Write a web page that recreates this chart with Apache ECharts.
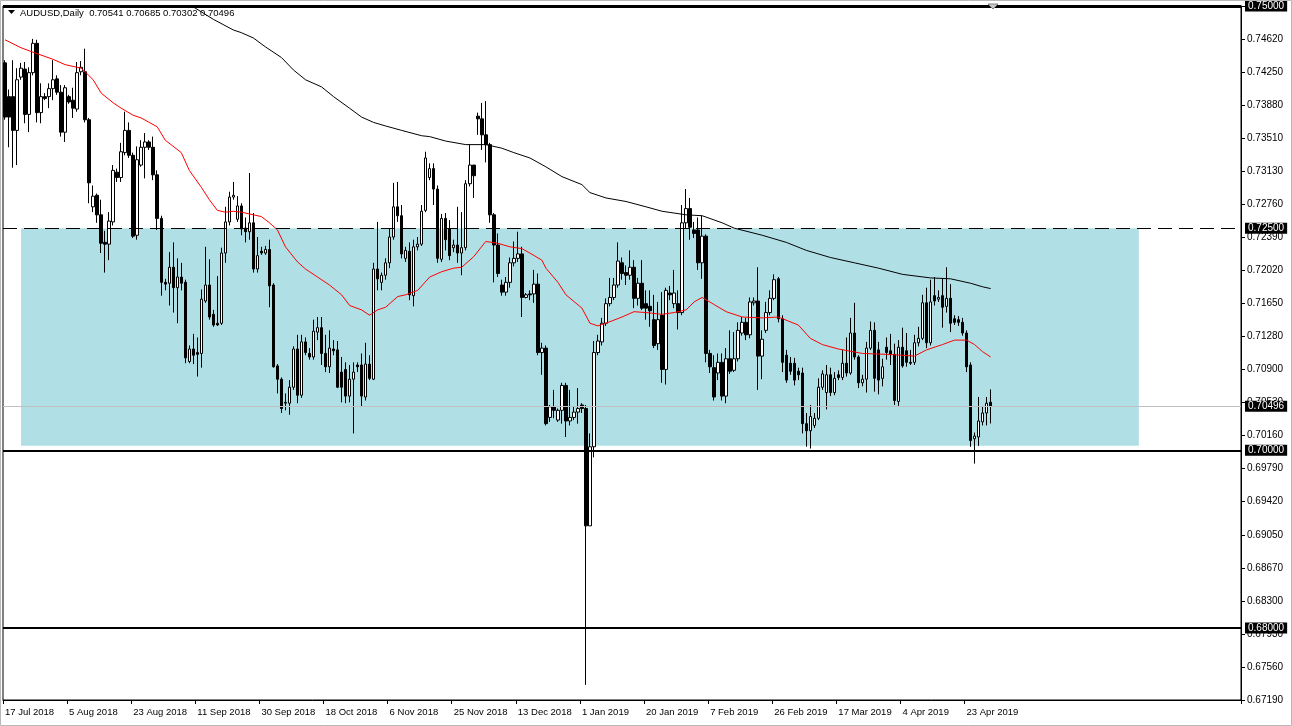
<!DOCTYPE html>
<html><head><meta charset="utf-8">
<script src="https://cdn.jsdelivr.net/npm/echarts@6/dist/echarts.min.js"></script>
<style>html,body{margin:0;padding:0;background:#fff}#c{width:1292px;height:726px}</style>
</head><body><div id="c"></div>
<script>
const symbolName = 'AUDUSD,Daily';
const dateLabels = ['17 Jul 2018','5 Aug 2018','23 Aug 2018','11 Sep 2018','30 Sep 2018','18 Oct 2018','6 Nov 2018','25 Nov 2018','13 Dec 2018','1 Jan 2019','20 Jan 2019','7 Feb 2019','26 Feb 2019','17 Mar 2019','4 Apr 2019','23 Apr 2019'];
const labelStep = 16;
const nSlots = 309;
const yLabels = ['0.67190','0.67560','0.67930','0.68300','0.68670','0.69050','0.69420','0.69790','0.70160','0.70530','0.70900','0.71280','0.71650','0.72020','0.72390','0.72760','0.73130','0.73510','0.73880','0.74250','0.74620','0.75000'];
const yMin = 0.6719, yMax = 0.75;

const opens = [
0.7436,0.7398,0.7398,0.7360,0.7420,0.7429,0.7378,0.7425,0.7458,0.7380,
0.7398,0.7398,0.7407,0.7418,0.7403,0.7358,0.7398,0.7394,0.7384,0.7426,
0.7426,0.7372,0.7274,0.7287,0.7265,0.7234,0.7232,0.7257,0.7313,0.7307,
0.7335,0.7360,0.7332,0.7242,0.7321,0.7341,0.7347,0.7341,0.7310,0.7261,
0.7189,0.7188,0.7206,0.7183,0.7195,0.7189,0.7100,0.7114,0.7110,0.7109,
0.7168,0.7186,0.7153,0.7143,0.7143,0.7222,0.7257,0.7285,0.7260,0.7275,
0.7250,0.7246,0.7256,0.7204,0.7224,0.7222,0.7226,0.7186,0.7095,0.7080,
0.7053,0.7053,0.7071,0.7114,0.7062,0.7122,0.7109,0.7105,0.7133,0.7138,
0.7109,0.7094,0.7114,0.7113,0.7088,0.7091,0.7061,0.7080,0.7096,0.7096,
0.7060,0.7097,0.7080,0.7204,0.7189,0.7197,0.7211,0.7240,0.7274,0.7264,
0.7216,0.7224,0.7174,0.7229,0.7232,0.7270,0.7307,0.7317,0.7294,0.7215,
0.7261,0.7249,0.7228,0.7231,0.7222,0.7228,0.7300,0.7321,0.7376,0.7373,
0.7355,0.7344,0.7265,0.7231,0.7186,0.7178,0.7189,0.7211,0.7216,0.7221,
0.7172,0.7176,0.7176,0.7187,0.7110,0.7115,0.7037,0.7049,0.7034,0.7045,
0.7073,0.7033,0.7037,0.7043,0.7051,0.7047,0.6915,0.7004,0.7110,0.7122,
0.7143,0.7165,0.7172,0.7186,0.7211,0.7200,0.7197,0.7206,0.7171,0.7188,
0.7165,0.7162,0.7147,0.7120,0.7152,0.7091,0.7177,0.7165,0.7165,0.7155,
0.7256,0.7272,0.7248,0.7248,0.7211,0.7241,0.7109,0.7093,0.7087,0.7099,
0.7061,0.7103,0.7090,0.7103,0.7132,0.7144,0.7130,0.7166,0.7168,0.7106,
0.7135,0.7155,0.7171,0.7193,0.7148,0.7107,0.7098,0.7098,0.7089,0.7087,
0.7030,0.7022,0.7028,0.7036,0.7071,0.7065,0.7085,0.7065,0.7085,0.7082,
0.7098,0.7087,0.7132,0.7105,0.7076,0.7080,0.7115,0.7135,0.7113,0.7081,
0.7116,0.7112,0.7108,0.7055,0.7116,0.7112,0.7099,0.7099,0.7121,0.7126,
0.7166,0.7121,0.7174,0.7170,0.7174,0.7162,0.7171,0.7148,0.7147,0.7144,
0.7132,0.7096,0.7013,0.7015,0.7032,0.7042,0.70541];

const closes = [
0.7375,0.7375,0.7360,0.7417,0.7430,0.7378,0.7425,0.7458,0.7380,0.7398,
0.7396,0.7407,0.7417,0.7403,0.7358,0.7408,0.7392,0.7385,0.7425,0.7431,
0.7372,0.7301,0.7286,0.7265,0.7233,0.7232,0.7258,0.7315,0.7307,0.7336,
0.7360,0.7332,0.7241,0.7327,0.7341,0.7347,0.7341,0.7310,0.7261,0.7189,
0.7187,0.7206,0.7183,0.7195,0.7188,0.7104,0.7114,0.7107,0.7108,0.7170,
0.7186,0.7150,0.7141,0.7141,0.7222,0.7257,0.7285,0.7287,0.7275,0.7249,
0.7246,0.7256,0.7204,0.7219,0.7222,0.7226,0.7185,0.7094,0.7080,0.7047,
0.7054,0.7071,0.7114,0.7062,0.7122,0.7110,0.7105,0.7134,0.7138,0.7109,
0.7094,0.7115,0.7112,0.7071,0.7071,0.7061,0.7080,0.7088,0.7094,0.7061,
0.7097,0.7081,0.7204,0.7193,0.7197,0.7211,0.7240,0.7274,0.7264,0.7221,
0.7225,0.7175,0.7229,0.7232,0.7269,0.7329,0.7317,0.7294,0.7216,0.7261,
0.7237,0.7219,0.7231,0.7222,0.7228,0.7300,0.7321,0.7309,0.7373,0.7355,
0.7344,0.7265,0.7231,0.7199,0.7178,0.7189,0.7211,0.7216,0.7221,0.7172,
0.7175,0.7175,0.7187,0.7110,0.7115,0.7030,0.7049,0.7045,0.7045,0.7073,
0.7033,0.7037,0.7043,0.7047,0.7047,0.6915,0.7004,0.7110,0.7123,0.7143,
0.7165,0.7172,0.7186,0.7213,0.7199,0.7197,0.7206,0.7171,0.7188,0.7160,
0.7160,0.7157,0.7118,0.7147,0.7091,0.7180,0.7175,0.7177,0.7155,0.7256,
0.7272,0.7251,0.7244,0.7211,0.7241,0.7109,0.7094,0.7060,0.7099,0.7061,
0.7103,0.7089,0.7103,0.7135,0.7144,0.7130,0.7167,0.7168,0.7106,0.7125,
0.7155,0.7171,0.7192,0.7148,0.7099,0.7079,0.7089,0.7079,0.7085,0.7030,
0.7022,0.7038,0.7036,0.7071,0.7086,0.7085,0.7065,0.7081,0.7082,0.7098,
0.7087,0.7132,0.7105,0.7076,0.7080,0.7115,0.7135,0.7081,0.7079,0.7094,
0.7110,0.7108,0.7056,0.7116,0.7095,0.7099,0.7098,0.7121,0.7126,0.7166,
0.7121,0.7167,0.7168,0.7172,0.7161,0.7171,0.7143,0.7144,0.7144,0.7132,
0.7094,0.7011,0.7016,0.7033,0.7042,0.7053,0.70496];

const lows = [
0.7372,0.7341,0.7318,0.7321,0.7417,0.7368,0.7358,0.7422,0.7369,0.7368,
0.7394,0.7385,0.7394,0.7400,0.7353,0.7347,0.7390,0.7374,0.7381,0.7422,
0.7369,0.7278,0.7268,0.7256,0.7222,0.7200,0.7214,0.7253,0.7302,0.7302,
0.7332,0.7329,0.7239,0.7237,0.7319,0.7306,0.7338,0.7304,0.7248,0.7174,
0.7180,0.7163,0.7155,0.7143,0.7180,0.7098,0.7098,0.7097,0.7083,0.7093,
0.7166,0.7147,0.7139,0.7140,0.7141,0.7211,0.7253,0.7282,0.7257,0.7242,
0.7234,0.7237,0.7200,0.7200,0.7220,0.7220,0.7161,0.7093,0.7064,0.7042,
0.7045,0.7040,0.7068,0.7053,0.7059,0.7107,0.7102,0.7102,0.7124,0.7096,
0.7088,0.7087,0.7107,0.7070,0.7054,0.7053,0.7054,0.7019,0.7088,0.7049,
0.7056,0.7079,0.7079,0.7180,0.7180,0.7192,0.7205,0.7237,0.7257,0.7216,
0.7212,0.7169,0.7162,0.7225,0.7230,0.7268,0.7304,0.7276,0.7211,0.7212,
0.7225,0.7214,0.7223,0.7211,0.7197,0.7225,0.7297,0.7284,0.7355,0.7338,
0.7324,0.7256,0.7189,0.7195,0.7174,0.7174,0.7183,0.7207,0.7212,0.7150,
0.7171,0.7169,0.7166,0.7107,0.7085,0.7028,0.7032,0.7036,0.7032,0.7030,
0.7015,0.7028,0.7034,0.7030,0.7042,0.6736,0.6915,0.6992,0.7107,0.7118,
0.7140,0.7162,0.7169,0.7183,0.7192,0.7186,0.7192,0.7160,0.7163,0.7158,
0.7147,0.7139,0.7115,0.7113,0.7076,0.7074,0.7169,0.7160,0.7136,0.7152,
0.7250,0.7237,0.7239,0.7203,0.7193,0.7099,0.7087,0.7056,0.7079,0.7056,
0.7053,0.7086,0.7088,0.7100,0.7129,0.7124,0.7126,0.7163,0.7068,0.7080,
0.7132,0.7152,0.7169,0.7144,0.7088,0.7076,0.7085,0.7073,0.7079,0.7019,
0.7004,0.7002,0.7025,0.7034,0.7068,0.7046,0.7061,0.7062,0.7079,0.7079,
0.7083,0.7085,0.7102,0.7070,0.7072,0.7065,0.7113,0.7066,0.7063,0.7072,
0.7102,0.7096,0.7051,0.7050,0.7093,0.7094,0.7096,0.7096,0.7117,0.7124,
0.7115,0.7118,0.7163,0.7167,0.7138,0.7155,0.7133,0.7141,0.7140,0.7129,
0.7088,0.7004,0.6985,0.7005,0.7028,0.7028,0.70302];

const highs = [
0.7439,0.7406,0.7439,0.7430,0.7436,0.7437,0.7431,0.7463,0.7462,0.7413,
0.7402,0.7413,0.7439,0.7422,0.7411,0.7411,0.7400,0.7408,0.7437,0.7438,
0.7452,0.7374,0.7298,0.7289,0.7282,0.7247,0.7268,0.7321,0.7317,0.7346,
0.7381,0.7369,0.7335,0.7342,0.7349,0.7357,0.7349,0.7353,0.7315,0.7264,
0.7193,0.7223,0.7234,0.7216,0.7211,0.7192,0.7118,0.7131,0.7127,0.7181,
0.7229,0.7215,0.7158,0.7196,0.7228,0.7274,0.7291,0.7302,0.7286,0.7278,
0.7262,0.7312,0.7267,0.7240,0.7229,0.7230,0.7237,0.7188,0.7097,0.7082,
0.7064,0.7079,0.7117,0.7130,0.7130,0.7127,0.7115,0.7147,0.7150,0.7150,
0.7130,0.7135,0.7124,0.7123,0.7105,0.7099,0.7096,0.7099,0.7099,0.7109,
0.7121,0.7107,0.7211,0.7257,0.7200,0.7216,0.7250,0.7301,0.7302,0.7276,
0.7229,0.7234,0.7237,0.7240,0.7276,0.7336,0.7323,0.7323,0.7298,0.7266,
0.7267,0.7259,0.7237,0.7274,0.7268,0.7304,0.7344,0.7321,0.7380,0.7391,
0.7393,0.7346,0.7267,0.7244,0.7192,0.7195,0.7217,0.7235,0.7246,0.7229,
0.7177,0.7180,0.7203,0.7199,0.7121,0.7118,0.7051,0.7068,0.7047,0.7076,
0.7076,0.7068,0.7049,0.7070,0.7053,0.7051,0.7019,0.7123,0.7130,0.7149,
0.7171,0.7194,0.7194,0.7234,0.7217,0.7208,0.7225,0.7214,0.7194,0.7214,
0.7180,0.7180,0.7175,0.7167,0.7178,0.7183,0.7185,0.7203,0.7180,0.7276,
0.7294,0.7284,0.7257,0.7262,0.7264,0.7243,0.7113,0.7107,0.7109,0.7109,
0.7115,0.7135,0.7133,0.7144,0.7150,0.7149,0.7172,0.7172,0.7206,0.7135,
0.7167,0.7180,0.7198,0.7195,0.7152,0.7113,0.7105,0.7104,0.7093,0.7093,
0.7042,0.7051,0.7042,0.7081,0.7090,0.7096,0.7093,0.7088,0.7090,0.7113,
0.7127,0.7149,0.7166,0.7107,0.7085,0.7122,0.7145,0.7144,0.7122,0.7103,
0.7127,0.7131,0.7120,0.7124,0.7138,0.7132,0.7113,0.7130,0.7139,0.7175,
0.7183,0.7192,0.7195,0.7180,0.7194,0.7206,0.7187,0.7152,0.7151,0.7149,
0.7135,0.7099,0.7020,0.7060,0.7049,0.7060,0.70685];

// moving averages read at sample bars: [bar index, price]
const redMA = [[0,0.7462],[4,0.7453],[7,0.7448],[12,0.7440],[15,0.7434],[19,0.7430],[20,0.7426],[22,0.7417],[24,0.7402],[27,0.7391],[29,0.7385],[32,0.7377],[34,0.7374],[36,0.7369],[38,0.7364],[40,0.7349],[44,0.7335],[46,0.7315],[49,0.7296],[51,0.7282],[53,0.7270],[55,0.7268],[57,0.7269],[59,0.7268],[62,0.7265],[64,0.7263],[66,0.7256],[68,0.7248],[70,0.7229],[73,0.7212],[75,0.7204],[78,0.7195],[81,0.7186],[84,0.7175],[86,0.7163],[89,0.7158],[91,0.7152],[93,0.7158],[95,0.7161],[98,0.7173],[100,0.7175],[103,0.7180],[106,0.7195],[109,0.7201],[112,0.7205],[114,0.7206],[117,0.7218],[120,0.7235],[123,0.7233],[126,0.7229],[129,0.7227],[131,0.7222],[134,0.7214],[135,0.7205],[138,0.7189],[140,0.7175],[144,0.7160],[146,0.7143],[148,0.7140],[150,0.7143],[154,0.7150],[157,0.7156],[160,0.7155],[164,0.7153],[167,0.7155],[170,0.7158],[172,0.7167],[174,0.7172],[177,0.7164],[180,0.7156],[184,0.7150],[189,0.7149],[193,0.7150],[198,0.7141],[201,0.7126],[204,0.7119],[208,0.7114],[214,0.7109],[220,0.7108],[224,0.7107],[227,0.7106],[230,0.7113],[234,0.7119],[237,0.7124],[240,0.7124],[242,0.7119],[244,0.7111],[246,0.7105]];
const blackMA = [[44,0.7512],[47,0.7499],[52,0.7485],[57,0.7473],[59,0.7470],[62,0.7464],[65,0.7454],[69,0.7442],[72,0.7428],[75,0.7417],[79,0.7409],[82,0.7398],[86,0.7385],[89,0.7375],[92,0.7369],[95,0.7365],[99,0.7360],[104,0.7354],[106,0.7353],[110,0.7348],[115,0.7344],[120,0.7344],[124,0.7340],[127,0.7335],[131,0.7329],[135,0.7319],[139,0.7308],[144,0.7299],[146,0.7290],[150,0.7284],[155,0.7280],[160,0.7274],[164,0.7269],[167,0.7267],[170,0.7265],[174,0.7264],[179,0.7256],[182,0.7250],[189,0.7242],[195,0.7234],[200,0.7225],[206,0.7217],[212,0.7211],[218,0.7205],[224,0.7198],[231,0.7194],[236,0.7193],[241,0.7188],[244,0.7184],[246,0.7182]];

const levelTop = 0.75, levelResistance = 0.725, levelSupport = 0.70, levelLower = 0.68;
const zoneFrom = 4, zoneTo = 283, zoneHigh = 0.725, zoneLow = 0.7005;

const FONT = '"Liberation Sans", Arial, sans-serif';
const last = opens.length - 1;
const fmt = v => Number(v).toFixed(5);
const candles = opens.map((o, i) => [o, closes[i], lows[i], highs[i]]);
const cats = Array.from({length: nSlots}, (_, i) => String(i));
const showIdx = (i) => i % labelStep === 0 && (i / labelStep) < dateLabels.length;

const chart = echarts.init(document.getElementById('c'), null, {renderer: 'canvas'});
chart.setOption({
  animation: false,
  backgroundColor: '#ffffff',
  grid: {left: 3, right: 51, top: 6, bottom: 26, show: true, borderColor: '#000', borderWidth: 1, containLabel: false, outerBoundsMode: 'none'},
  xAxis: {
    type: 'category', data: cats, boundaryGap: true,
    axisLine: {show: true, lineStyle: {color: '#000', width: 1}},
    axisTick: {show: true, interval: showIdx, length: 4, lineStyle: {color: '#000'}},
    axisLabel: {show: true, interval: showIdx, formatter: (v) => { const i = Number(v); return showIdx(i) ? dateLabels[i / labelStep] : ''; },
      align: 'left', color: '#000', fontFamily: FONT, fontSize: 9.5, margin: 7},
    splitLine: {show: false}
  },
  yAxis: [
    {type: 'value', min: yMin, max: yMax, show: false, scale: true, splitLine: {show: false}},
    {type: 'category', data: yLabels, boundaryGap: false, position: 'right',
      axisLine: {show: true, lineStyle: {color: '#000'}},
      axisTick: {show: true, length: 4, interval: 0, lineStyle: {color: '#000'}},
      axisLabel: {interval: 0, color: '#000', fontFamily: FONT, fontSize: 10, margin: 6},
      splitLine: {show: false}}
  ],
  series: [
    {
      type: 'candlestick', yAxisIndex: 0, data: candles, barWidth: 3,
      itemStyle: {color: '#ffffff', color0: '#000000', borderColor: '#000000', borderColor0: '#000000', borderWidth: 1},
      markArea: {silent: true, itemStyle: {color: '#b0e0e6', opacity: 1},
        data: [[{xAxis: zoneFrom, yAxis: zoneHigh}, {xAxis: zoneTo, yAxis: zoneLow}]]},
      markLine: {
        silent: true, symbol: ['none', 'none'], animation: false, precision: 5,
        label: {show: true, position: 'end', formatter: (p) => fmt(p.value), color: '#fff', backgroundColor: '#000',
          padding: [1, 3, 0, 3], fontFamily: FONT, fontSize: 10, distance: 4},
        data: [
          {yAxis: levelTop, lineStyle: {color: '#000', width: 3, type: 'solid'}},
          {yAxis: levelResistance, lineStyle: {color: '#000', width: 1, type: [14, 7]}},
          {yAxis: closes[last], lineStyle: {color: '#c0c0c0', width: 1, type: 'solid'}},
          {yAxis: levelSupport, lineStyle: {color: '#000', width: 2, type: 'solid'}},
          {yAxis: levelLower, lineStyle: {color: '#000', width: 2, type: 'solid'}}
        ]
      }
    },
    {type: 'line', yAxisIndex: 0, data: redMA, symbol: 'none', silent: true, lineStyle: {color: '#ff0000', width: 1}, z: 3},
    {type: 'line', yAxisIndex: 0, data: blackMA, symbol: 'none', silent: true, lineStyle: {color: '#000000', width: 1}, z: 3}
  ],
  graphic: [
    {type: 'rect', shape: {x: 0.5, y: 0.5, width: 1291, height: 725}, style: {fill: 'none', stroke: '#b8b8b8', lineWidth: 1}, silent: true, z: 20},
    {type: 'polygon', shape: {points: [[8, 10], [15, 10], [11.5, 14]]}, style: {fill: '#000'}, z: 10},
    {type: 'text', x: 20, y: 13, style: {text: symbolName + '  ' + fmt(opens[last]) + ' ' + fmt(highs[last]) + ' ' + fmt(lows[last]) + ' ' + fmt(closes[last]),
      fill: '#000', font: '9.5px ' + FONT, verticalAlign: 'middle'}, z: 10},
    {type: 'polygon', shape: {points: [[988, 4], [998, 4], [993, 9]]}, style: {fill: '#c8c8c8', stroke: '#808080', lineWidth: 1}, z: 10}
  ]
});
</script>
</body></html>
